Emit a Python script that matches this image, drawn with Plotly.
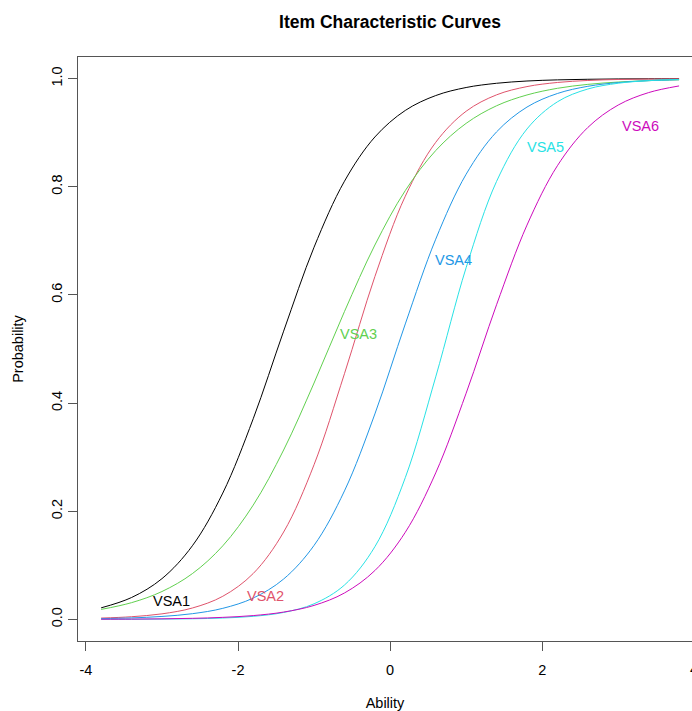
import plotly.graph_objects as go

# Ability grid and item characteristic curve values
theta = [-3.8, -3.4, -3.0, -2.6, -2.2, -1.8, -1.4, -1.0, -0.6, -0.2,
         0.2, 0.6, 1.0, 1.4, 1.8, 2.2, 2.6, 3.0, 3.4, 3.8]

vsa1 = [0.0213, 0.0404, 0.0753, 0.1361, 0.2336, 0.3710, 0.5330, 0.6882, 0.8103, 0.8921,
        0.9412, 0.9687, 0.9836, 0.9914, 0.9956, 0.9977, 0.9988, 0.9994, 0.9997, 0.9998]
vsa2 = [0.0024, 0.0049, 0.0102, 0.0210, 0.0427, 0.0848, 0.1615, 0.2860, 0.4544, 0.6339,
        0.7826, 0.8822, 0.9397, 0.9700, 0.9853, 0.9929, 0.9966, 0.9984, 0.9992, 0.9996]
vsa3 = [0.0184, 0.0309, 0.0515, 0.0846, 0.1360, 0.2113, 0.3132, 0.4371, 0.5693, 0.6923,
        0.7930, 0.8670, 0.9173, 0.9498, 0.9698, 0.9821, 0.9894, 0.9937, 0.9963, 0.9978]
vsa4 = [0.0014, 0.0027, 0.0054, 0.0105, 0.0204, 0.0394, 0.0746, 0.1368, 0.2376, 0.3799,
        0.5464, 0.7031, 0.8232, 0.9015, 0.9474, 0.9725, 0.9858, 0.9927, 0.9963, 0.9981]
vsa5 = [0.0001, 0.0002, 0.0005, 0.0011, 0.0025, 0.0056, 0.0128, 0.0288, 0.0635, 0.1344,
        0.2621, 0.4484, 0.6504, 0.8099, 0.9069, 0.9571, 0.9808, 0.9915, 0.9963, 0.9984]
vsa6 = [0.0003, 0.0005, 0.0010, 0.0019, 0.0037, 0.0070, 0.0135, 0.0258, 0.0488, 0.0903,
        0.1611, 0.2709, 0.4182, 0.5818, 0.7291, 0.8389, 0.9097, 0.9512, 0.9742, 0.9865]

item_names = ["VSA1", "VSA2", "VSA3", "VSA4", "VSA5", "VSA6"]
label_theta = [-2.87, -1.64, -0.41, 0.83, 2.05, 3.29]
label_prob = [0.034, 0.044, 0.527, 0.665, 0.874, 0.913]

x_ticks = [-4, -2, 0, 2]
y_ticks = [0.0, 0.2, 0.4, 0.6, 0.8, 1.0]

colors = ["#000000", "#DF536B", "#61D04F", "#2297E6", "#28E2E5", "#CD0BBC"]
FONT = "Liberation Sans, Arial, Helvetica, sans-serif"

W, H = 692, 711
ML, MR, MT, MB = 78, 0, 57, 70
x_range = [-4.104, 3.97]
y_range = [-0.04, 1.04]

fig = go.Figure()
for name, vals, col in zip(item_names, [vsa1, vsa2, vsa3, vsa4, vsa5, vsa6], colors):
    fig.add_trace(go.Scatter(x=theta, y=vals, mode="lines", name=name,
                             line=dict(color=col, width=1, shape="spline"),
                             showlegend=False, hoverinfo="skip"))

for name, lx, ly, col in zip(item_names, label_theta, label_prob, colors):
    fig.add_annotation(x=lx, y=ly, xref="x", yref="y", text=name, showarrow=False,
                       font=dict(family=FONT, size=14.5, color=col),
                       xanchor="center", yanchor="middle")

# partially visible "4" tick label at the cut-off right edge
frac4 = (4 - x_range[0]) / (x_range[1] - x_range[0])
fig.add_annotation(x=frac4, y=0, xref="paper", yref="paper", text="4", showarrow=False,
                   font=dict(family=FONT, size=14.5, color="#000"),
                   xanchor="center", yanchor="top", yshift=-18)

axis_col = "#555555"
fig.update_layout(
    width=W, height=H,
    margin=dict(l=ML, r=MR, t=MT, b=MB),
    paper_bgcolor="white", plot_bgcolor="white",
    font=dict(family=FONT, size=14.5, color="#000"),
    title=dict(text="<b>Item Characteristic Curves</b>", x=390 / W, xref="container",
               xanchor="center", y=1 - 21.5 / H, yref="container", yanchor="middle",
               font=dict(family=FONT, size=17.5, color="#000")),
    xaxis=dict(range=x_range, tickvals=x_ticks, ticktext=[str(v) for v in x_ticks],
               showgrid=False, zeroline=False, showline=True, mirror=True,
               linecolor=axis_col, linewidth=1.2, ticks="outside", ticklen=9,
               tickcolor=axis_col, tickwidth=1, ticklabelstandoff=6,
               title=dict(text="Ability", standoff=22,
                          font=dict(family=FONT, size=14.5)),
               automargin=False),
    yaxis=dict(range=y_range, tickvals=y_ticks, tickformat=".1f",
               showgrid=False, zeroline=False, showline=True, mirror=False,
               linecolor=axis_col, linewidth=1.2, ticks="outside", ticklen=9,
               tickcolor=axis_col, tickwidth=1, tickangle=-90,
               title=dict(text="Probability", standoff=22,
                          font=dict(family=FONT, size=14.5)),
               automargin=False),
)

fig.write_html("out.html", config={"displayModeBar": False},
               post_script="document.body.style.margin='0';document.body.style.padding='0';")
